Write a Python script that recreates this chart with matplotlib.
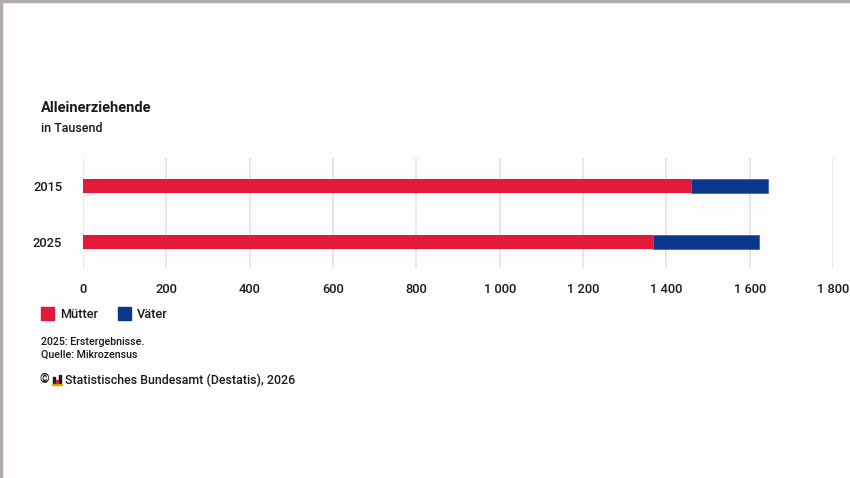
import matplotlib.pyplot as plt
from matplotlib.ticker import FuncFormatter
from matplotlib.patches import Rectangle

# data (in Tausend)
years = ['2015', '2025']
muetter = [1460, 1368]
vaeter = [183, 254]

red = '#e1193a'
blue = '#0b368d'
txt = '#1a1a1a'

plt.rcParams['font.family'] = ['Roboto', 'DejaVu Sans']
MED = 'medium'

fig = plt.figure(figsize=(8.5, 4.78), dpi=100)
fig.patch.set_facecolor('#fdfdfd')
W, H = 850, 478

def fx(px):
    return px / W

def fy(py):
    return 1 - py / H

ax = fig.add_axes([fx(83), fy(268), fx(750), 110 / H])
ax.set_facecolor('#fdfdfd')

ypos = list(range(len(years)))
ax.barh(ypos, muetter, height=0.25, color=red, label='Mütter', zorder=3)
ax.barh(ypos, vaeter, left=muetter, height=0.25, color=blue,
        edgecolor='#2f5aa8', linewidth=0.5, label='Väter', zorder=3)

ax.set_xlim(0, 1800)
ax.set_ylim(1.464, -0.5)
ax.set_xticks(range(0, 1801, 200))
ax.xaxis.set_major_formatter(FuncFormatter(lambda v, p: f'{int(v):,}'.replace(',', ' ')))
ax.set_yticks(ypos)
ax.set_yticklabels(years)
ax.grid(axis='x', color='#e3e3e3', linewidth=1.2, zorder=0)
for s in ax.spines.values():
    s.set_visible(False)
ax.tick_params(axis='both', length=0, labelsize=9.3, labelcolor=txt)
ax.tick_params(axis='x', pad=11)
ax.tick_params(axis='y', pad=15)
for lab in ax.get_xticklabels() + ax.get_yticklabels():
    lab.set_fontweight(MED)
ax.xaxis.get_majorticklabels()[-1].set_clip_on(False)

# title
fig.text(fx(41), fy(108), 'Alleinerziehende', fontsize=10.5, fontweight='bold',
         color=txt, va='center')
fig.text(fx(41), fy(129), 'in Tausend', fontsize=9, color=txt, va='center',
         fontweight=MED)

# legend
for x0, col, name in [(41, red, 'Mütter'), (118, blue, 'Väter')]:
    fig.patches.append(Rectangle((fx(x0), fy(320)), fx(13), 13 / H,
                                 transform=fig.transFigure, color=col))
    fig.text(fx(x0 + 19), fy(314), name, fontsize=9.2, color=txt,
             va='center', fontweight=MED)

# notes
fig.text(fx(41), fy(342), '2025: Erstergebnisse.', fontsize=7.7, color=txt,
         va='center', fontweight=MED)
fig.text(fx(41), fy(355), 'Quelle: Mikrozensus', fontsize=7.7, color=txt,
         va='center', fontweight=MED)
fig.text(fx(40), fy(380), '©', fontsize=9, color=txt, va='center', fontweight='bold')
# small logo
for dx, h, c in [(53, 7, '#1a1a1a'), (56, 4, '#e1193a'), (59, 9, '#1a1a1a')]:
    fig.patches.append(Rectangle((fx(dx), fy(384)), fx(2), h / H,
                                 transform=fig.transFigure, color=c))
fig.patches.append(Rectangle((fx(52), fy(385)), fx(10), 1 / H,
                             transform=fig.transFigure, color='#d9a300'))
fig.text(fx(65), fy(380), 'Statistisches Bundesamt (Destatis), 2026', fontsize=8.9,
         color=txt, va='center', fontweight=MED)

# frame lines top / left
fig.patches.append(Rectangle((0, 1 - 2 / H), 1, 2 / H, transform=fig.transFigure,
                             color='#b3abab'))
fig.patches.append(Rectangle((0, 0), 2 / W, 1, transform=fig.transFigure,
                             color='#b3abab'))

fig.savefig('out.png', dpi=100, facecolor=fig.get_facecolor())
